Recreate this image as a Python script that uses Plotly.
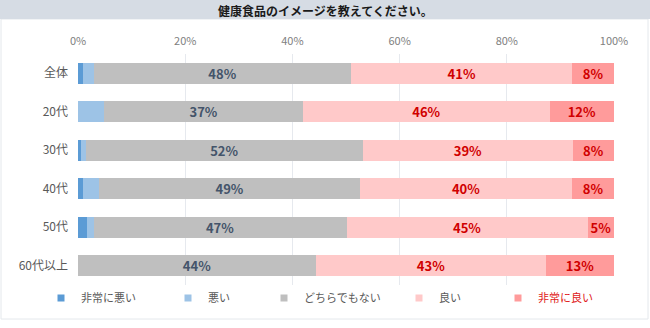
import plotly.graph_objects as go

categories = ["全体", "20代", "30代", "40代", "50代", "60代以上"]
series_names = ["非常に悪い", "悪い", "どちらでもない", "良い", "非常に良い"]
very_bad = [0.9, 0.0, 0.6, 1.0, 1.7, 0.0]
bad = [2.0, 4.9, 0.8, 3.0, 1.2, 0.0]
neutral = [48.1, 37.1, 51.8, 48.6, 47.2, 44.4]
good = [41.2, 46.0, 39.1, 39.6, 45.0, 42.9]
very_good = [7.8, 12.0, 7.7, 7.8, 4.9, 12.7]
x_ticks = [0, 20, 40, 60, 80, 100]
x_tick_labels = ["0%", "20%", "40%", "60%", "80%", "100%"]
title_text = "健康食品のイメージを教えてください。"

series_values = [very_bad, bad, neutral, good, very_good]
colors = ["#5b9bd5", "#9dc3e6", "#bfbfbf", "#ffc9c9", "#ff9b9b"]
show_text = [False, False, True, True, True]
text_colors = [None, None, "#44546a", "#d00000", "#d00000"]
legend_font_colors = ["#595959", "#595959", "#595959", "#595959", "#e02020"]
legend_text_px = [80, 207, 303, 438, 537]

FONT = "Noto Sans CJK JP"
W, H = 650, 328
ML, MR, MT, MB = 78, 36, 54, 43
PW = W - ML - MR
PH = H - MT - MB

def px_x(x):
    return (x - ML) / PW

def px_y(y):
    return 1 - (y - MT) / PH

fig = go.Figure()
for i, (name, vals) in enumerate(zip(series_names, series_values)):
    fig.add_trace(go.Bar(
        name=name, y=categories, x=vals, orientation="h",
        marker=dict(color=colors[i], line=dict(width=0)),
        texttemplate="<b>%{x:.0f}%</b>" if show_text[i] else None,
        textposition="inside" if show_text[i] else "none",
        insidetextanchor="middle",
        textfont=dict(family=FONT, size=13, color=text_colors[i] or "#000"),
        showlegend=False, hoverinfo="skip",
    ))
    lg = "legend" if i == 0 else f"legend{i+1}"
    fig.add_trace(go.Scatter(
        name=name, x=[None], y=[None], mode="markers",
        marker=dict(symbol="square", size=7, color=colors[i]),
        legend=lg, showlegend=True, hoverinfo="skip",
    ))

legend_layout = {}
for i in range(5):
    key = "legend" if i == 0 else f"legend{i+1}"
    legend_layout[key] = dict(
        x=px_x(legend_text_px[i] - 39), y=px_y(298), xanchor="left", yanchor="middle",
        orientation="h", bgcolor="rgba(0,0,0,0)",
        font=dict(family=FONT, size=11, color=legend_font_colors[i]),
        itemsizing="trace", itemwidth=30,
    )

fig.update_layout(
    width=W, height=H,
    margin=dict(l=ML, r=MR, t=MT, b=MB),
    paper_bgcolor="white", plot_bgcolor="white",
    barmode="stack", bargap=0.45,
    uniformtext=dict(minsize=13, mode="show"),
    xaxis=dict(
        range=[0, 100], tickmode="array", tickvals=x_ticks, ticktext=x_tick_labels,
        side="top", ticklabelstandoff=6,
        showgrid=True, gridcolor="#e6e9ee", gridwidth=1,
        zeroline=False, showline=False, ticks="",
        tickfont=dict(family=FONT, size=11, color="#808080"),
        fixedrange=True,
    ),
    yaxis=dict(
        categoryorder="array", categoryarray=categories, autorange="reversed",
        showgrid=False, zeroline=False, showline=False, ticks="",
        ticklabelstandoff=9,
        tickfont=dict(family=FONT, size=12, color="#595959"),
        fixedrange=True,
    ),
    shapes=[
        dict(type="rect", xref="paper", yref="paper",
             x0=px_x(1), x1=px_x(648), y0=px_y(319), y1=px_y(19),
             line=dict(color="#e4e8ec", width=1), fillcolor="rgba(0,0,0,0)", layer="below"),
        dict(type="rect", xref="paper", yref="paper",
             x0=px_x(0), x1=px_x(650), y0=px_y(19), y1=px_y(0),
             line=dict(width=0), fillcolor="#d6dce4", layer="below"),
    ],
    annotations=[
        dict(text=f"<b>{title_text}</b>", xref="paper", yref="paper",
             x=px_x(325), y=px_y(10), xanchor="center", yanchor="middle",
             showarrow=False, font=dict(family=FONT, size=12, color="#1a1a1a")),
    ],
    **legend_layout,
)

fig.write_html("out.html")
